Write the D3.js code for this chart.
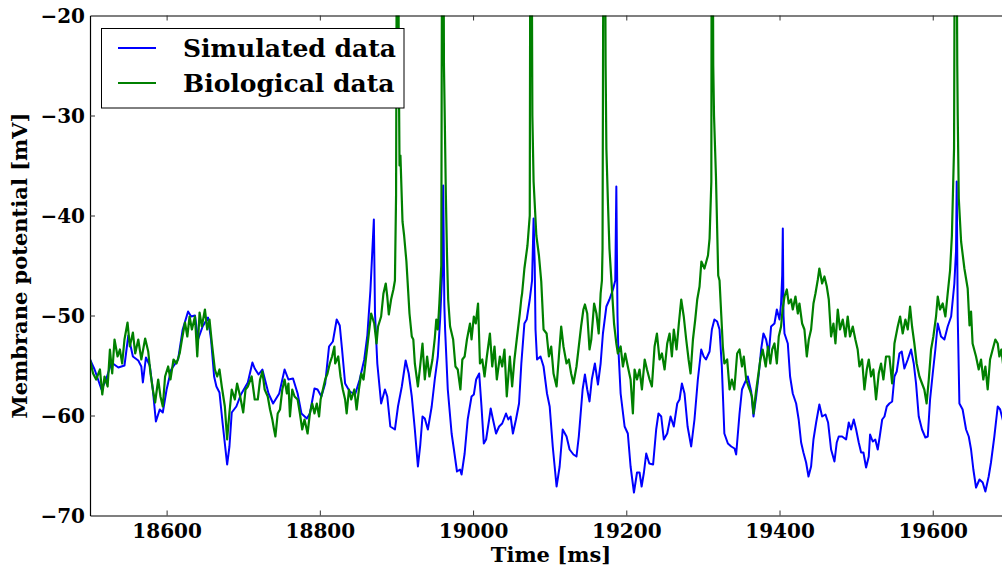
<!DOCTYPE html>
<html>
<head>
<meta charset="utf-8">
<script src="https://cdn.jsdelivr.net/npm/d3@7"></script>
<style>
  body { margin: 0; background: #fff; }
  #chart { width: 1002px; height: 568px; }
</style>
</head>
<body>
<div id="chart"></div>
<script>
// tick values
const xTicks = [18600, 18800, 19000, 19200, 19400, 19600];
const yTicks = [-70, -60, -50, -40, -30, -20];
const seriesNames = ["Simulated data", "Biological data"];

// [time ms, membrane potential mV]
const simulated = [
  [18500,-54.4],[18506,-55.4],[18515,-57.4],[18521,-56.4],[18528,-54.7],[18537,-55.2],[18545,-55.0],[18550,-52.0],
  [18556,-54.1],[18563,-54.5],[18567,-55.1],[18569,-56.7],[18573,-54.2],[18578,-55.0],[18582,-57.4],[18586,-60.6],
  [18591,-59.4],[18595,-59.7],[18600,-57.4],[18606,-55.4],[18615,-54.4],[18621,-51.4],[18628,-49.6],[18632,-50.1],
  [18637,-50.0],[18641,-52.4],[18647,-51.1],[18654,-50.2],[18658,-52.4],[18662,-56.1],[18665,-57.1],[18669,-57.7],
  [18673,-60.7],[18679,-64.9],[18682,-63.1],[18685,-59.7],[18691,-59.1],[18697,-57.9],[18706,-56.7],[18712,-54.7],
  [18715,-55.3],[18720,-55.9],[18725,-55.4],[18733,-57.8],[18739,-58.8],[18747,-57.8],[18754,-55.4],[18759,-56.4],
  [18765,-56.3],[18771,-57.8],[18776,-59.8],[18783,-60.3],[18787,-59.8],[18793,-57.3],[18797,-57.4],[18802,-58.1],
  [18807,-56.8],[18812,-53.1],[18817,-52.6],[18822,-50.4],[18826,-51.0],[18829,-53.4],[18833,-56.8],[18839,-57.6],
  [18846,-57.9],[18852,-56.4],[18858,-54.4],[18862,-52.0],[18866,-47.5],[18870.5,-40.4],[18872,-49.8],[18875,-54.8],
  [18880,-58.8],[18885,-57.4],[18888,-58.1],[18892,-61.1],[18898,-61.4],[18902,-59.1],[18907,-57.1],[18912,-54.5],
  [18916,-55.8],[18920,-58.1],[18924,-61.4],[18928,-65.1],[18931,-63.0],[18934,-60.1],[18937,-60.3],[18941,-61.4],
  [18946,-59.1],[18950,-56.4],[18954,-54.1],[18957,-50.4],[18959.5,-46.0],[18961,-37.0],[18962.5,-49.0],[18963.5,-51.4],
  [18967,-57.4],[18972,-61.8],[18975,-63.4],[18979,-65.6],[18983,-65.4],[18985,-65.9],[18989,-63.8],[18993,-60.4],
  [18998,-58.1],[19001,-57.9],[19004,-56.4],[19008,-55.8],[19011,-59.1],[19014,-62.8],[19017,-62.4],[19021,-60.4],
  [19023,-59.3],[19026,-60.4],[19030,-61.8],[19034,-61.1],[19038,-60.8],[19043,-59.8],[19046,-60.4],[19049,-60.1],
  [19052,-61.8],[19056,-60.4],[19060,-58.8],[19063,-54.8],[19067,-50.8],[19070,-50.4],[19074,-48.4],[19077,-46.5],
  [19079,-40.3],[19080.5,-45.0],[19081.5,-51.4],[19083.5,-54.4],[19088,-54.1],[19092,-55.1],[19096.5,-57.8],[19100,-59.1],
  [19104,-63.1],[19109,-67.1],[19113,-65.1],[19117,-61.4],[19122,-62.1],[19126,-63.4],[19131,-63.9],[19135,-64.1],
  [19138,-62.1],[19143,-57.4],[19146,-55.9],[19149,-57.4],[19152,-58.6],[19155,-56.4],[19159,-54.8],[19163,-56.9],
  [19166.5,-54.8],[19169.5,-51.8],[19174,-49.1],[19178,-48.4],[19182.6,-47.4],[19185.6,-46.5],[19187,-37.1],[19188.5,-50.0],
  [19189.5,-53.1],[19192.6,-57.8],[19197.8,-61.1],[19202,-61.8],[19205.6,-65.1],[19210,-67.7],[19214,-65.7],[19217.3,-65.7],
  [19220,-67.1],[19223,-65.7],[19226,-63.8],[19230,-64.8],[19235,-64.9],[19239,-61.4],[19242,-59.8],[19245.6,-60.1],
  [19249,-62.4],[19253.4,-61.8],[19257.8,-60.1],[19262,-61.1],[19266.5,-58.8],[19269.5,-58.4],[19272.6,-56.8],[19276,-57.8],
  [19280,-61.1],[19284.7,-63.1],[19289,-60.4],[19293.4,-56.4],[19297.8,-53.4],[19301,-54.1],[19304,-54.4],[19308.7,-53.6],
  [19311.7,-51.4],[19315,-50.4],[19318.6,-50.6],[19321.7,-51.4],[19324.7,-55.1],[19328,-61.8],[19332.6,-62.8],[19337,-63.1],
  [19341.3,-63.3],[19343.4,-63.9],[19347.8,-59.8],[19351,-57.4],[19354.3,-56.8],[19358.6,-56.1],[19363,-57.6],[19366,-60.1],
  [19369.5,-58.1],[19373,-55.8],[19376,-53.4],[19379,-51.8],[19382.5,-52.4],[19386,-53.8],[19389,-51.1],[19393.4,-50.8],
  [19396.5,-49.4],[19400,-50.4],[19402,-48.8],[19403.5,-46.0],[19404.3,-41.3],[19405.2,-50.0],[19406.5,-51.8],[19410.8,-52.8],
  [19413.8,-56.1],[19417.3,-57.8],[19421.7,-58.8],[19425,-60.4],[19428.2,-62.7],[19431.2,-63.7],[19434.7,-64.7],[19437.8,-66.1],
  [19441.2,-65.1],[19444.3,-62.4],[19447.8,-60.7],[19452,-58.9],[19455.6,-60.1],[19460,-59.9],[19463.4,-60.7],[19467.3,-63.4],
  [19471.7,-64.6],[19474.7,-62.7],[19477.3,-62.1],[19481.7,-62.1],[19486.9,-62.4],[19490.4,-60.7],[19493.4,-61.4],[19496.9,-60.4],
  [19500,-61.4],[19503.4,-62.7],[19506.5,-63.7],[19509.5,-63.7],[19513,-65.2],[19516.5,-64.1],[19518.2,-61.9],[19521.7,-62.6],
  [19525,-62.4],[19528.2,-63.4],[19531,-62.0],[19534,-60.4],[19537,-60.1],[19540,-59.1],[19543.4,-58.8],[19547,-58.6],
  [19550,-56.1],[19553,-55.6],[19556.5,-53.8],[19559.5,-53.6],[19563,-55.3],[19567.4,-54.4],[19571.7,-53.4],[19575.2,-54.8],
  [19578.2,-56.8],[19581.7,-60.1],[19586,-61.4],[19590.4,-62.2],[19593.5,-62.1],[19596.5,-58.4],[19600,-55.8],[19603.4,-53.4],
  [19606.5,-50.8],[19610.8,-52.1],[19615.2,-52.4],[19619.5,-51.1],[19624,-50.1],[19628.2,-46.8],[19630.4,-43.5],[19631.3,-36.6],
  [19632.6,-50.1],[19634.8,-58.8],[19639,-59.4],[19643.5,-61.4],[19647,-62.1],[19650,-63.4],[19653,-65.4],[19656.5,-67.2],
  [19661,-66.4],[19665.2,-66.7],[19668.7,-67.6],[19673,-66.1],[19676,-64.7],[19680.4,-62.1],[19684.8,-59.1],[19688,-59.4],
  [19692,-60.6]
];

const biological = [
  [18500,-54.4],[18504,-55.8],[18508,-56.4],[18513,-55.4],[18516,-57.9],[18519,-56.1],[18523,-57.1],[18526,-53.4],
  [18529,-55.8],[18532,-52.4],[18536,-54.1],[18539,-53.4],[18542,-54.8],[18545,-52.4],[18549,-50.7],[18552,-53.1],
  [18556,-51.7],[18559,-53.8],[18563,-52.4],[18567,-54.4],[18572,-52.3],[18576,-53.6],[18579,-55.8],[18582,-57.4],
  [18585,-58.7],[18589,-56.4],[18592,-58.1],[18595,-59.1],[18598,-56.1],[18602,-55.1],[18605,-56.4],[18609,-54.4],
  [18613,-54.8],[18617,-53.8],[18620,-52.4],[18624,-50.7],[18627,-52.1],[18630,-50.1],[18633,-51.4],[18637,-50.1],
  [18640,-54.1],[18643,-49.7],[18646,-51.1],[18650,-49.4],[18653,-51.4],[18656,-50.4],[18659,-52.7],[18663,-55.4],
  [18666,-56.1],[18669,-55.4],[18672,-57.1],[18676,-59.1],[18679,-62.4],[18682,-59.7],[18685,-57.4],[18689,-58.4],
  [18692,-56.8],[18696,-58.1],[18700,-59.7],[18703,-57.4],[18706,-57.1],[18711,-56.1],[18715,-58.4],[18719,-58.4],
  [18722,-56.4],[18725,-55.6],[18728,-57.4],[18732,-58.1],[18735,-59.4],[18738,-60.4],[18740,-61.3],[18742,-62.1],
  [18745,-59.8],[18748,-59.4],[18751,-57.4],[18754,-56.4],[18757,-57.8],[18759,-56.8],[18761,-60.1],[18764,-57.4],
  [18767,-58.1],[18771,-58.4],[18774,-59.8],[18777,-61.4],[18780,-60.4],[18784,-61.8],[18787,-59.8],[18790,-58.8],
  [18793,-59.8],[18796,-58.8],[18799,-60.1],[18801,-58.4],[18804,-57.4],[18807,-56.4],[18810,-55.8],[18813,-54.8],
  [18816,-54.1],[18819,-53.1],[18820,-54.8],[18824,-54.1],[18827,-56.1],[18830,-57.4],[18833,-58.4],[18835,-59.8],
  [18838,-57.4],[18841,-58.4],[18845,-57.4],[18848,-59.4],[18851,-57.4],[18854,-55.8],[18857,-56.4],[18860,-54.4],
  [18862,-53.1],[18865,-51.1],[18867,-49.8],[18871,-50.8],[18874,-52.8],[18876,-51.1],[18880,-50.1],[18883,-47.8],
  [18886,-46.8],[18888,-48.1],[18890,-49.9],[18893,-48.4],[18896,-47.4],[18898,-46.5],[18899.5,-38.0],[18901.3,15.0],
  [18903,-24.0],[18904,-35.0],[18905.2,-34.0],[18907.9,-40.6],[18910,-42.0],[18913,-44.6],[18917,-49.8],[18920,-52.1],
  [18922,-52.4],[18924,-54.8],[18928,-57.1],[18931,-55.0],[18934,-52.8],[18937,-56.4],[18940,-54.1],[18943,-56.1],
  [18947,-54.4],[18950,-52.3],[18952,-50.4],[18954,-51.4],[18956,-48.8],[18958.5,-45.0],[18960.3,15.0],[18962,-25.0],
  [18963,-30.0],[18964.5,-38.0],[18966,-44.0],[18967.5,-48.4],[18970,-51.1],[18974,-52.4],[18977,-55.1],[18980,-55.4],
  [18983.5,-57.4],[18986,-54.4],[18989,-54.1],[18992,-52.4],[18996,-50.8],[18998,-52.4],[19001,-50.1],[19003.5,-50.8],
  [19006.5,-48.8],[19009,-54.8],[19012,-54.4],[19015,-56.1],[19018,-54.1],[19022,-51.8],[19025,-55.1],[19028,-53.1],
  [19031,-56.4],[19035,-54.1],[19038,-55.1],[19041,-53.4],[19044,-58.1],[19048,-54.1],[19051,-57.1],[19054,-54.4],
  [19057,-52.4],[19061,-49.8],[19063,-48.3],[19064,-47.8],[19067,-45.3],[19071,-43.0],[19074,-40.0],[19075.3,15.0],
  [19077.4,-30.0],[19079,-36.6],[19082.6,-42.0],[19086,-44.0],[19089,-46.6],[19092,-51.4],[19096,-51.8],[19099,-54.1],
  [19102,-53.1],[19105,-55.8],[19109,-57.1],[19112,-54.1],[19115,-51.1],[19118,-53.1],[19122,-54.8],[19125,-54.4],
  [19128,-55.8],[19131,-56.8],[19135,-55.1],[19138,-53.1],[19141,-51.1],[19144,-49.4],[19146,-48.9],[19149,-49.8],
  [19152,-53.4],[19154.3,-52.4],[19158,-48.8],[19161,-49.8],[19164,-51.8],[19166.5,-47.8],[19168.2,-46.5],[19169,-43.3],
  [19171,15.0],[19173,-25.0],[19174,-33.3],[19176,-38.6],[19178,-43.3],[19182,-48.3],[19184,-50.8],[19187,-52.8],
  [19189,-53.8],[19192.6,-53.1],[19195.6,-55.1],[19198.6,-53.8],[19202,-55.1],[19205.6,-56.4],[19208.6,-59.8],[19210.8,-55.4],
  [19214,-56.4],[19217.3,-55.4],[19220.4,-57.4],[19224,-54.4],[19227,-55.4],[19230.4,-56.4],[19233.4,-57.1],[19236.9,-53.1],
  [19240,-51.8],[19243.4,-54.4],[19246.5,-53.8],[19250,-55.4],[19253.4,-52.8],[19256.5,-51.8],[19259.5,-54.1],[19262,-51.4],
  [19265.6,-53.4],[19268.6,-50.8],[19271.7,-48.4],[19275,-50.1],[19278.2,-52.4],[19281.3,-54.4],[19283.9,-55.8],[19287,-52.4],
  [19290,-50.4],[19292.6,-48.4],[19295.6,-47.1],[19298,-44.6],[19302,-45.3],[19306.6,-44.0],[19308.7,-42.3],[19311,-36.6],
  [19311.8,15.0],[19313.5,-25.0],[19314.5,-30.0],[19317,-36.0],[19320,-46.0],[19321.7,-46.5],[19324,-50.0],[19326,-53.1],
  [19328,-54.8],[19331.7,-54.4],[19334.8,-57.4],[19337.8,-56.4],[19341,-57.4],[19344.7,-53.8],[19347.8,-53.4],[19351,-55.1],
  [19353.4,-54.1],[19356.5,-56.4],[19359.5,-57.1],[19361,-57.4],[19364,-58.1],[19366,-59.8],[19369,-57.8],[19372,-56.1],
  [19375,-54.4],[19378,-53.4],[19382,-55.1],[19385,-53.1],[19388,-54.8],[19390.4,-53.4],[19393.4,-52.8],[19396.5,-54.8],
  [19399,-52.1],[19402,-51.1],[19404,-49.4],[19406.5,-48.1],[19409.5,-47.4],[19412,-48.8],[19415,-48.4],[19417.3,-49.4],
  [19420.8,-48.1],[19423.9,-49.8],[19426,-48.8],[19429.5,-50.8],[19432.5,-51.4],[19435.6,-54.1],[19438.2,-52.4],[19441.2,-51.4],
  [19444.3,-48.8],[19446.9,-47.8],[19450,-46.4],[19452,-45.3],[19455.6,-46.8],[19458.6,-46.1],[19461.7,-47.1],[19464.3,-48.4],
  [19467.3,-52.1],[19470.4,-50.8],[19473,-52.8],[19476,-49.4],[19479,-51.4],[19482.5,-50.4],[19486,-52.1],[19489,-50.1],
  [19492,-52.1],[19495.6,-51.1],[19499,-52.4],[19502,-53.4],[19504.3,-55.1],[19507.8,-54.4],[19510.8,-57.4],[19513.9,-55.4],
  [19516.5,-54.4],[19519.5,-56.1],[19522.5,-55.4],[19526,-58.4],[19529.5,-55.8],[19532.5,-54.8],[19535.6,-56.4],[19539,-54.1],
  [19543.4,-54.1],[19547,-56.8],[19550,-52.8],[19554.3,-51.1],[19557.4,-50.1],[19560.8,-51.8],[19564.3,-50.4],[19567.4,-51.4],
  [19570.4,-49.1],[19573,-51.1],[19576,-52.8],[19579,-54.8],[19582.6,-56.1],[19586,-56.8],[19589,-57.4],[19592,-58.8],
  [19594.8,-56.4],[19597.8,-53.4],[19600.8,-52.1],[19604.3,-50.1],[19606.5,-48.1],[19609.5,-49.4],[19613,-48.8],[19616.5,-50.1],
  [19619.5,-47.8],[19622.6,-45.5],[19625,-42.0],[19627.8,-33.3],[19629.8,15.0],[19632,-25.0],[19632.6,-30.0],[19634,-38.3],
  [19637,-42.6],[19641.3,-45.3],[19645.6,-47.3],[19648,-51.0],[19650,-49.6],[19652,-52.8],[19656.5,-54.1],[19660,-55.4],
  [19663,-54.4],[19666,-56.4],[19668.7,-55.1],[19671.7,-57.4],[19674.8,-54.4],[19678.2,-53.4],[19681.7,-52.4],[19684.8,-52.8],
  [19687,-54.1],[19689.5,-53.4],[19692,-55.0]
];

const width = 1002;
const height = 568;
const font = "'DejaVu Serif', serif";

const plotLeft = 90, plotTop = 15.5, plotBottom = 515.5;

const x = d3.scaleLinear().domain([18500, 19690]).range([plotLeft, 1001.7]);
const y = d3.scaleLinear().domain([-70, -20]).range([plotBottom, plotTop]);

const svg = d3.select("#chart")
  .append("svg")
  .attr("width", width)
  .attr("height", height)
  .style("font-family", font)
  .style("font-weight", "bold");

svg.append("clipPath")
  .attr("id", "plot-clip")
  .append("rect")
  .attr("x", plotLeft)
  .attr("y", plotTop)
  .attr("width", width - plotLeft)
  .attr("height", plotBottom - plotTop);

const colors = ["#0000ff", "#008000"];
const line = d3.line().x((d) => x(d[0])).y((d) => y(d[1]));

const plot = svg.append("g").attr("clip-path", "url(#plot-clip)");
[simulated, biological].forEach((data, i) => {
  plot.append("path")
    .datum(data)
    .attr("fill", "none")
    .attr("stroke", colors[i])
    .attr("stroke-width", i === 0 ? 2 : 2.2)
    .attr("stroke-linejoin", "round")
    .attr("d", line);
});

// axes: ticks point inward like the matplotlib classic style
const tickLen = 5;
const bottomAxis = svg.append("g")
  .attr("transform", `translate(0,${plotBottom})`)
  .call(d3.axisBottom(x).tickValues(xTicks).tickSizeInner(-tickLen).tickSizeOuter(0).tickPadding(8).tickFormat(d3.format("d")));
const topAxis = svg.append("g")
  .attr("transform", `translate(0,${plotTop})`)
  .call(d3.axisTop(x).tickValues(xTicks).tickSizeInner(-tickLen).tickSizeOuter(0).tickFormat(""));
const leftAxis = svg.append("g")
  .attr("transform", `translate(${plotLeft},0)`)
  .call(d3.axisLeft(y).tickValues(yTicks).tickSizeInner(-tickLen).tickSizeOuter(0).tickPadding(5).tickFormat(d3.format("d")));

[bottomAxis, topAxis, leftAxis].forEach((g) => {
  g.select(".domain").attr("stroke", "#000").attr("stroke-width", 1.2);
  g.selectAll(".tick line").attr("stroke", "#333");
  g.selectAll(".tick text")
    .attr("fill", "#000")
    .style("font-family", font)
    .style("font-weight", "bold")
    .style("font-size", "20px");
});
leftAxis.selectAll(".tick text").attr("dy", "0.35em");

// hide ticks that fall on the spines
leftAxis.selectAll(".tick line").filter((d) => d === -70 || d === -20).remove();

svg.append("text")
  .attr("x", 551)
  .attr("y", 562)
  .attr("text-anchor", "middle")
  .style("font-size", "21px")
  .text("Time [ms]");

svg.append("text")
  .attr("transform", "translate(27,265.5) rotate(-90)")
  .attr("text-anchor", "middle")
  .style("font-size", "21px")
  .text("Membrane potential [mV]");

// legend
const legend = svg.append("g");
legend.append("rect")
  .attr("x", 101.5)
  .attr("y", 28.5)
  .attr("width", 302.5)
  .attr("height", 79.5)
  .attr("fill", "#fff")
  .attr("stroke", "#000")
  .attr("stroke-width", 1);

seriesNames.forEach((name, i) => {
  const ly = 48 + i * 35;
  legend.append("line")
    .attr("x1", 118).attr("x2", 156)
    .attr("y1", ly).attr("y2", ly)
    .attr("stroke", colors[i])
    .attr("stroke-width", 2);
  legend.append("text")
    .attr("x", 183)
    .attr("y", ly + 9)
    .style("font-size", "25px")
    .text(name);
});
</script>
</body>
</html>
